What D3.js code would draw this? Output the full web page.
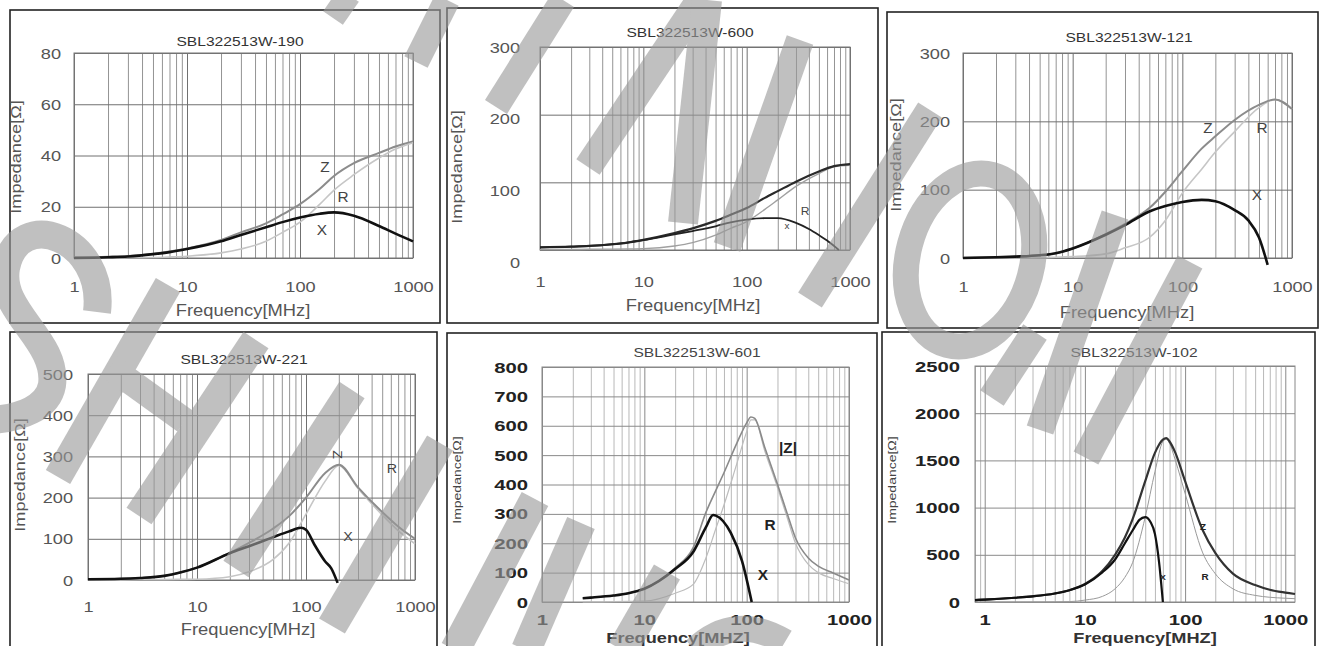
<!DOCTYPE html>
<html>
<head>
<meta charset="utf-8">
<script src="https://cdn.jsdelivr.net/npm/d3@7/dist/d3.min.js"></script>
<style>
  body { margin: 0; background: #fff; }
  svg { display: block; }
</style>
</head>
<body>
<div id="chart"></div>
<script>
// ---- data (frequency in MHz, impedance in ohm) ----

// SBL322513W-190
var f190 = [1, 2, 3, 5, 7, 10, 20, 30, 50, 70, 100, 150, 200, 300, 500, 700, 1000];
var z190 = [0.3, 0.5, 0.8, 1.6, 2.5, 3.7, 7, 10, 13.5, 17, 21, 27, 32, 37, 41, 43.5, 45.5];
var r190 = [0, 0, 0.1, 0.2, 0.4, 0.7, 2, 3.5, 6.5, 10, 14, 21, 26.5, 32.5, 39, 42.5, 45];
var x190 = [0, 0.3, 0.6, 1.5, 2.3, 3.5, 6.5, 9, 12, 14, 15.8, 17.3, 17.8, 16.5, 12.5, 9.5, 6.5];
var yTicks190 = [0, 20, 40, 60, 80];

// SBL322513W-600
var f600 = [1, 2, 3, 5, 7, 10, 20, 30, 50, 70, 100, 150, 200, 300, 500, 700, 1000];
var z600 = [4, 5, 6, 8.5, 11, 15, 25, 32, 43, 52, 62, 77, 87, 101, 116, 124, 127];
var r600 = [0.5, 0.7, 1, 1.3, 1.6, 2, 6, 11, 22, 32, 42, 60, 74, 94, 113, 123, 125];
var fx600 = [1, 2, 3, 5, 7, 10, 20, 30, 50, 70, 100, 150, 200, 300, 400, 500, 600, 780];
var x600 = [4, 5, 6, 8.5, 11, 14.5, 23, 28, 35, 41, 45, 47, 47, 40, 31, 22, 14, 0];
var yTicks600 = [0, 100, 200, 300];

// SBL322513W-121
var f121 = [1, 2, 3, 5, 7, 10, 20, 30, 50, 70, 100, 150, 200, 300, 500, 700, 1000];
var z121 = [0.5, 1, 2, 4, 7, 14, 35, 50, 73, 97, 127, 160, 178, 202, 224, 232, 218];
var r121 = [0, 0.1, 0.2, 0.5, 1, 2, 6, 15, 30, 55, 95, 130, 155, 185, 220, 232, 218];
var fx121 = [1, 2, 3, 5, 7, 10, 20, 30, 50, 70, 100, 150, 200, 300, 400, 500, 600];
var x121 = [0, 1, 2, 4, 7, 14, 34, 48, 68, 76, 82, 85, 83, 70, 55, 30, -10];
var yTicks121 = [0, 100, 200, 300];

// SBL322513W-221
var f221 = [1, 2, 3, 5, 7, 10, 20, 30, 50, 70, 100, 150, 200, 300, 500, 700, 1000];
var z221 = [2, 3, 5, 10, 18, 30, 66, 90, 125, 155, 200, 260, 280, 225, 165, 130, 100];
var r221 = [0, 0.2, 0.5, 1, 1.5, 2, 8, 20, 50, 90, 160, 240, 278, 222, 158, 120, 88];
var fx221 = [1, 2, 3, 5, 7, 10, 20, 30, 50, 70, 90, 100, 120, 150, 170, 195];
var x221 = [2, 3, 5, 10, 18, 30, 65, 82, 104, 118, 127, 122, 85, 45, 29, -7];
var yTicks221 = [0, 100, 200, 300, 400, 500];

// SBL322513W-601
var f601 = [2.5, 3, 5, 7, 10, 20, 30, 40, 50, 60, 80, 100, 110, 120, 150, 200, 250, 300, 400, 500, 700, 1000];
var z601 = [13, 15, 22, 30, 45, 116, 185, 305, 380, 440, 540, 610, 630, 625, 527, 401, 299, 218, 150, 122, 99, 75];
var r601 = [0, 0.5, 1, 2, 3, 30, 60, 150, 250, 330, 470, 580, 620, 620, 515, 390, 285, 200, 128, 100, 80, 62];
var fx601 = [2.5, 3, 5, 7, 10, 20, 30, 40, 47, 50, 70, 90, 112];
var x601 = [13, 15, 22, 30, 45, 112, 170, 255, 296, 294, 235, 140, 0];
var yTicks601 = [0, 100, 200, 300, 400, 500, 600, 700, 800];

// SBL322513W-102
var f102 = [0.8, 1, 2, 3, 5, 7, 10, 15, 20, 25, 30, 40, 50, 60, 65, 70, 80, 100, 150, 200, 300, 500, 700, 1000, 1250];
var z102 = [20, 25, 45, 60, 90, 125, 190, 330, 500, 680, 880, 1280, 1580, 1720, 1735, 1700, 1580, 1280, 760, 520, 300, 180, 130, 100, 85];
var r102 = [0, 0, 0.5, 1, 2, 4, 20, 60, 140, 260, 420, 900, 1380, 1700, 1725, 1680, 1500, 1150, 520, 300, 140, 70, 50, 40, 35];
var fx102 = [0.8, 1, 2, 3, 5, 7, 10, 15, 20, 25, 30, 35, 40, 45, 50, 55, 60];
var x102 = [20, 25, 45, 60, 90, 125, 185, 315, 450, 620, 760, 870, 900, 850, 720, 420, 0];
var yTicks102 = [0, 500, 1000, 1500, 2000, 2500];

var xTicks = [1, 10, 100, 1000];

// ---- layout ----
var W = 1325, H = 646;
var svg = d3.select("#chart").append("svg").attr("width", W).attr("height", H);

var styleA = { tick: { size: 14, weight: "normal", fill: "#555", sx: 1.3 },
               title: { size: 12, fill: "#333", sx: 1.3 },
               xlab: { size: 17, weight: "normal", fill: "#555", sx: 1.08 },
               ylab: { size: 14, fill: "#555", sx: 1.3 },
               minor: "#949494", major: "#707070", frame: "#777" };
var styleB = { tick: { size: 14, weight: "bold", fill: "#222", sx: 1.45 },
               title: { size: 12, fill: "#444", sx: 1.3 },
               xlab: { size: 14, weight: "bold", fill: "#333", sx: 1.3 },
               ylab: { size: 10, fill: "#444", sx: 1.4 },
               minor: "#b8b8b8", major: "#8a8a8a", frame: "#888" };

var panels = [
  { title: "SBL322513W-190", box: [10, 10, 430, 313], plot: [74, 53, 413, 258], xd: [1, 1000], yd: [0, 80], yt: yTicks190,
    st: styleA, titleXY: [240, 42], xlabXY: [243, 310], ylabXY: [16, 157], xtY: 287, ytDx: 13, ytDy: 0, xlabText: "Frequency[MHz]",
    series: [ { f: f190, v: z190, c: "#8c8c8c", w: 2 }, { f: f190, v: r190, c: "#c6c6c6", w: 1.6 }, { f: f190, v: x190, c: "#111", w: 2.6 } ],
    labels: [ ["Z", 325, 167, 14], ["R", 343, 197, 14], ["X", 322, 230, 14] ] },
  { title: "SBL322513W-600", box: [447, 8, 431, 315], plot: [540, 47, 850, 250], xd: [1, 1000], yd: [0, 300], yt: yTicks600,
    st: styleA, titleXY: [690, 33], xlabXY: [693, 305], ylabXY: [457, 167], xtY: 282, ytDx: 20, ytDy: 12, xlabText: "Frequency[MHz]",
    series: [ { f: f600, v: r600, c: "#a0a0a0", w: 1.4 }, { f: f600, v: z600, c: "#2a2a2a", w: 2.2 }, { f: fx600, v: x600, c: "#222", w: 1.8 } ],
    labels: [ ["R", 805, 211, 11], ["x", 787, 226, 9] ] },
  { title: "SBL322513W-121", box: [887, 12, 431, 316], plot: [963, 53, 1292, 258], xd: [1, 1000], yd: [0, 300], yt: yTicks121,
    st: styleA, titleXY: [1129, 38], xlabXY: [1127, 312], ylabXY: [896, 155], xtY: 287, ytDx: 13, ytDy: 0, xlabText: "Frequency[MHz]",
    series: [ { f: f121, v: r121, c: "#c6c6c6", w: 1.6 }, { f: f121, v: z121, c: "#8c8c8c", w: 2 }, { f: fx121, v: x121, c: "#111", w: 2.6 } ],
    labels: [ ["Z", 1208, 128, 14], ["R", 1262, 128, 14], ["X", 1257, 195, 14] ] },
  { title: "SBL322513W-221", box: [10, 332, 427, 318], plot: [88, 374, 415, 580], xd: [1, 1000], yd: [0, 500], yt: yTicks221,
    st: styleA, titleXY: [244, 360], xlabXY: [248, 629], ylabXY: [20, 475], xtY: 607, ytDx: 15, ytDy: 0, xlabText: "Frequency[MHz]",
    series: [ { f: f221, v: r221, c: "#c6c6c6", w: 1.6 }, { f: f221, v: z221, c: "#8c8c8c", w: 2 }, { f: fx221, v: x221, c: "#111", w: 2.6 } ],
    labels: [ ["Z", 333, 450, 13, 90], ["R", 392, 468, 13], ["X", 348, 536, 13] ] },
  { title: "SBL322513W-601", box: [447, 333, 430, 317], plot: [542, 367, 849, 602], xd: [1, 1000], yd: [0, 800], yt: yTicks601,
    st: styleB, titleXY: [697, 353], xlabXY: [678, 637], ylabXY: [457, 480], xtY: 620, ytDx: 14, ytDy: 0, xlabText: "Frequency[MHZ]",
    series: [ { f: f601, v: r601, c: "#bdbdbd", w: 1.2 }, { f: f601, v: z601, c: "#8a8a8a", w: 1.6 }, { f: fx601, v: x601, c: "#111", w: 2.6 } ],
    labels: [ ["|Z|", 788, 448, 14], ["R", 770, 525, 14], ["X", 763, 575, 14] ] },
  { title: "SBL322513W-102", box: [882, 332, 433, 318], plot: [975, 366, 1295, 602], xd: [0.8, 1250], yd: [0, 2500], yt: yTicks102,
    st: styleB, titleXY: [1134, 353], xlabXY: [1145, 637], ylabXY: [892, 480], xtY: 620, ytDx: 15, ytDy: 0, xlabText: "Frequency[MHZ]",
    series: [ { f: f102, v: r102, c: "#9a9a9a", w: 1 }, { f: f102, v: z102, c: "#333", w: 2.2 }, { f: fx102, v: x102, c: "#111", w: 2.2 } ],
    labels: [ ["Z", 1203, 527, 9], ["R", 1205, 577, 9], ["X", 1163, 577, 8] ] }
];

var FONT = "'Liberation Sans', Arial, sans-serif";

function label(g, x, y, s, o) {
  return g.append("text")
    .attr("transform", "translate(" + x + "," + y + ")" + (o.rot ? " rotate(" + o.rot + ")" : "") + " scale(" + (o.sx || 1) + ",1)")
    .attr("text-anchor", o.anchor || "middle")
    .attr("font-family", FONT)
    .attr("font-size", o.size + "px")
    .attr("font-weight", o.weight || "normal")
    .attr("fill", o.fill)
    .text(s);
}

function drawPanel(p) {
  var st = p.st;
  var x = d3.scaleLog().domain(p.xd).range([p.plot[0], p.plot[2]]);
  var y = d3.scaleLinear().domain(p.yd).range([p.plot[3], p.plot[1]]);
  var pw = p.plot[2] - p.plot[0], ph = p.plot[3] - p.plot[1];
  var g = svg.append("g");

  g.append("rect")
    .attr("x", p.box[0]).attr("y", p.box[1]).attr("width", p.box[2]).attr("height", p.box[3])
    .attr("fill", "none").attr("stroke", "#222").attr("stroke-width", 1.6);

  // log grid
  var minor = [], major = [];
  for (var e = -1; e <= 3; e++) {
    for (var k = 1; k < 10; k++) {
      var v = k * Math.pow(10, e);
      if (v >= p.xd[0] * 0.999 && v <= p.xd[1] * 1.001) (k === 1 ? major : minor).push(v);
    }
  }
  function gridStyle(sel, col) {
    sel.select(".domain").remove();
    sel.selectAll("line").attr("stroke", col).attr("stroke-width", 1);
  }
  g.append("g").attr("transform", "translate(0," + p.plot[3] + ")")
    .call(d3.axisBottom(x).tickValues(minor).tickSize(-ph).tickFormat(""))
    .call(gridStyle, st.minor);
  g.append("g").attr("transform", "translate(0," + p.plot[3] + ")")
    .call(d3.axisBottom(x).tickValues(major).tickSize(-ph).tickFormat(""))
    .call(gridStyle, st.major);
  g.append("g").attr("transform", "translate(" + p.plot[0] + ",0)")
    .call(d3.axisLeft(y).tickValues(p.yt).tickSize(-pw).tickFormat(""))
    .call(gridStyle, st.major);
  g.append("rect")
    .attr("x", p.plot[0]).attr("y", p.plot[1]).attr("width", pw).attr("height", ph)
    .attr("fill", "none").attr("stroke", st.frame).attr("stroke-width", 1);

  // tick labels
  var t = st.tick;
  var xa = g.append("g").attr("transform", "translate(0," + p.plot[3] + ")")
    .call(d3.axisBottom(x).tickValues(xTicks).tickSize(0).tickFormat(d3.format("d")));
  xa.select(".domain").remove();
  xa.selectAll("text")
    .attr("y", p.xtY - p.plot[3]).attr("dy", "0.36em")
    .attr("transform", "scale(" + t.sx + ",1)")
    .attr("font-family", FONT).attr("font-size", t.size + "px")
    .attr("font-weight", t.weight).attr("fill", t.fill);

  var ya = g.append("g").attr("transform", "translate(" + p.plot[0] + ",0)")
    .call(d3.axisLeft(y).tickValues(p.yt).tickSize(0).tickFormat(d3.format("d")));
  ya.select(".domain").remove();
  ya.selectAll("text")
    .attr("x", -p.ytDx / t.sx)
    .attr("y", function (d) { return p.ytDy * (1 - (d - p.yd[0]) / (p.yd[1] - p.yd[0])); })
    .attr("dy", "0.36em")
    .attr("text-anchor", "end")
    .attr("transform", "scale(" + t.sx + ",1)")
    .attr("font-family", FONT).attr("font-size", t.size + "px")
    .attr("font-weight", t.weight).attr("fill", t.fill);

  // texts
  label(g, p.titleXY[0], p.titleXY[1] + 4, p.title, st.title);
  label(g, p.xlabXY[0], p.xlabXY[1] + 6, p.xlabText, st.xlab);
  label(g, p.ylabXY[0] + st.ylab.size * 0.36, p.ylabXY[1], "Impedance[\u03A9]",
        { size: st.ylab.size, fill: st.ylab.fill, sx: st.ylab.sx, rot: -90 });

  // curves
  var line = d3.line()
    .x(function (d) { return x(d[0]); })
    .y(function (d) { return y(d[1]); })
    .curve(d3.curveMonotoneX);
  p.series.forEach(function (s) {
    g.append("path")
      .attr("d", line(d3.zip(s.f, s.v)))
      .attr("fill", "none")
      .attr("stroke", s.c)
      .attr("stroke-width", s.w)
      .attr("stroke-linejoin", "round");
  });

  p.labels.forEach(function (l) {
    label(g, l[1], l[2] + l[3] * 0.36, l[0],
          { size: l[3], fill: st === styleB ? "#222" : "#444", weight: st === styleB ? "bold" : "normal", sx: 1.1, rot: l[4] || 0 });
  });
}

panels.forEach(drawPanel);

// ---- grey watermark strokes lying over the charts ----
var WM = "#9a9a9a";
var watermarkBands = [
  [333, 18, 349, -5, 24], [416, 62, 447, 0, 26],
  [58, 477, 168, 285, 28], [110, 367, 185, 421, 26], [139, 516, 256, 340, 30],
  [236, 569, 352, 390, 30], [332, 626, 440, 443, 30],
  [455, 650, 535, 499, 30], [526, 650, 581, 523, 30], [622, 650, 667, 572, 30],
  [496, 107, 563, 0, 26], [588, 167, 700, 0, 28], [683, 223, 707, 0, 30],
  [727, 247, 800, 40, 28], [810, 300, 930, 110, 28],
  [992, 398, 1035, 332, 28], [1040, 430, 1115, 215, 28], [1086, 458, 1190, 262, 28]
];
var wm = svg.append("g").attr("opacity", 0.62);
wm.selectAll("line.band").data(watermarkBands).enter().append("line")
  .attr("class", "band")
  .attr("x1", function (d) { return d[0]; }).attr("y1", function (d) { return d[1]; })
  .attr("x2", function (d) { return d[2]; }).attr("y2", function (d) { return d[3]; })
  .attr("stroke", WM).attr("stroke-width", function (d) { return d[4]; });
wm.append("path").attr("d", "M97,312 C106,238 18,205 6,268 C-2,312 58,340 52,385 C48,408 20,418 -8,420")
  .attr("fill", "none").attr("stroke", WM).attr("stroke-width", 28);
wm.append("path").attr("d", "M695,650 Q735,612 785,642")
  .attr("fill", "none").attr("stroke", WM).attr("stroke-width", 26);
wm.append("ellipse").attr("cx", 970).attr("cy", 260).attr("rx", 62).attr("ry", 88)
  .attr("transform", "rotate(15,970,260)")
  .attr("fill", "none").attr("stroke", WM).attr("stroke-width", 26);
</script>
</body>
</html>
